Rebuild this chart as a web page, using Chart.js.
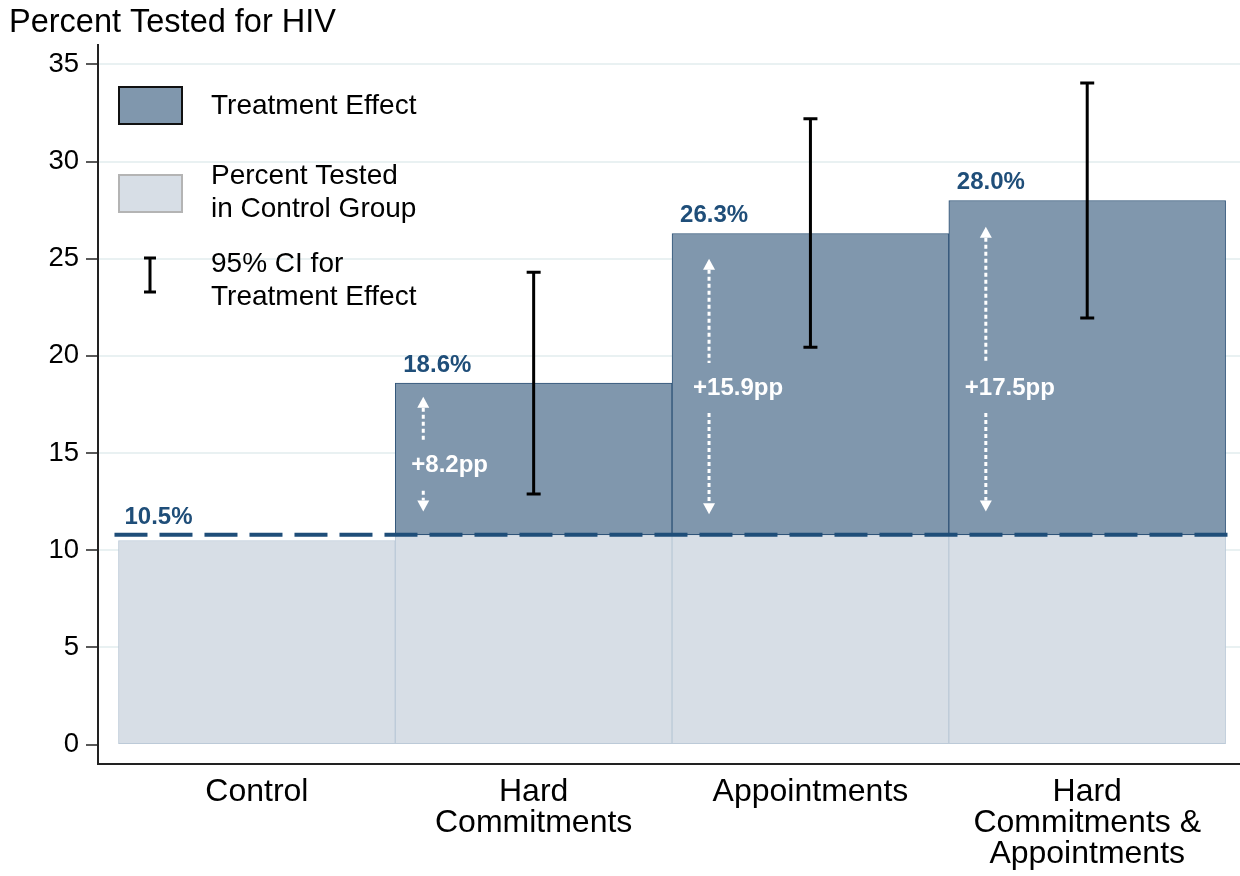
<!DOCTYPE html>
<html>
<head>
<meta charset="utf-8">
<title>Percent Tested for HIV</title>
<script src="https://cdn.jsdelivr.net/npm/chart.js@4.4.1/dist/chart.umd.min.js"></script>
<style>
  html, body { margin: 0; padding: 0; background: #fff; }
  #wrap { width: 1240px; height: 876px; }
</style>
</head>
<body>
<div id="wrap"><canvas id="hivChart"></canvas></div>
<script>
// Data
const categories = [['Control'], ['Hard', 'Commitments'], ['Appointments'], ['Hard', 'Commitments &', 'Appointments']];
const controlBase = [10.5, 10.8, 10.8, 10.8];
const treatedRate = [null, 18.6, 26.3, 28.0];
const controlMean = 10.8;
const shownPct = [10.5, 18.6, 26.3, 28.0];
const ciLow = [null, 12.9, 20.45, 21.95];
const ciHigh = [null, 24.3, 32.2, 34.05];
const effectPP = [null, 8.2, 15.9, 17.5];
const arrowTop = [null, 17.9, 25.0, 26.65];
const arrowBottom = [null, 12.0, 11.85, 12.0];
const effectLabelY = [null, 14.35, 18.35, 18.35];
const yTicks = [0, 5, 10, 15, 20, 25, 30, 35];

const FONT = "'Liberation Sans', Arial, sans-serif";
const DARK_BLUE = '#1f4e79';
const BAR_DARK = '#8097ad';
const BAR_LIGHT = '#d7dee6';

// pixel insets of the arrows / pp labels from the bar's left edge
const arrowInset = [0, 28, 37, 37];
const ppInset = [0, 16, 21, 16];

function arrowHead(ctx, x, y, dir) {
  ctx.beginPath();
  ctx.moveTo(x, y);
  ctx.lineTo(x - 6, y - dir * 11);
  ctx.lineTo(x + 6, y - dir * 11);
  ctx.closePath();
  ctx.fill();
}

const annotations = {
  id: 'annotations',
  afterDatasetsDraw(chart) {
    const { ctx, scales: { x, y } } = chart;
    ctx.save();

    // Control group reference line
    const x0 = x.getPixelForValue(-0.5) - 4;
    const x1 = x.getPixelForValue(categories.length - 0.5) + 4;
    const yBase = y.getPixelForValue(controlMean);
    ctx.strokeStyle = DARK_BLUE;
    ctx.lineWidth = 4;
    ctx.setLineDash([33, 12]);
    ctx.beginPath();
    ctx.moveTo(x0, yBase);
    ctx.lineTo(x1, yBase);
    ctx.stroke();
    ctx.setLineDash([]);

    // Error bars
    ctx.strokeStyle = '#000';
    ctx.lineWidth = 3;
    ciLow.forEach((lo, i) => {
      if (lo == null) return;
      const cx = x.getPixelForValue(i);
      const yl = y.getPixelForValue(lo);
      const yh = y.getPixelForValue(ciHigh[i]);
      ctx.beginPath();
      ctx.moveTo(cx, yl); ctx.lineTo(cx, yh);
      ctx.moveTo(cx - 7, yl); ctx.lineTo(cx + 7, yl);
      ctx.moveTo(cx - 7, yh); ctx.lineTo(cx + 7, yh);
      ctx.stroke();
    });

    // Value labels above bars
    ctx.font = 'bold 24px ' + FONT;
    ctx.fillStyle = DARK_BLUE;
    ctx.textAlign = 'left';
    ctx.textBaseline = 'alphabetic';
    shownPct.forEach((v, i) => {
      const left = x.getPixelForValue(i - 0.5);
      const top = treatedRate[i] == null ? controlMean : treatedRate[i];
      ctx.fillText(v.toFixed(1) + '%', left + (i === 0 ? 6 : 8), y.getPixelForValue(top) - 11);
    });

    // Treatment effect arrows
    ctx.fillStyle = '#fff';
    ctx.strokeStyle = '#fff';
    effectPP.forEach((pp, i) => {
      if (pp == null) return;
      const left = x.getPixelForValue(i - 0.5);
      const ax = left + arrowInset[i];
      const yt = y.getPixelForValue(arrowTop[i]);
      const yb = y.getPixelForValue(arrowBottom[i]);
      const ym = y.getPixelForValue(effectLabelY[i]);
      ctx.lineWidth = 3;
      ctx.setLineDash([4, 3]);
      ctx.beginPath();
      ctx.moveTo(ax, yt + 11); ctx.lineTo(ax, ym - 25);
      ctx.moveTo(ax, ym + 25); ctx.lineTo(ax, yb - 11);
      ctx.stroke();
      ctx.setLineDash([]);
      arrowHead(ctx, ax, yt, -1);
      arrowHead(ctx, ax, yb, 1);
      ctx.font = 'bold 24px ' + FONT;
      ctx.textBaseline = 'middle';
      ctx.fillText('+' + pp.toFixed(1) + 'pp', left + ppInset[i], ym);
    });
    ctx.restore();
  },

  // Legend inside the plot
  afterDraw(chart) {
    const { ctx, chartArea } = chart;
    const lx = chartArea.left + 21;
    const tx = chartArea.left + 113;
    const top = chartArea.top;
    ctx.save();
    ctx.lineWidth = 2;
    ctx.fillStyle = BAR_DARK;
    ctx.strokeStyle = '#111';
    ctx.fillRect(lx, top + 42, 63, 37);
    ctx.strokeRect(lx, top + 42, 63, 37);
    ctx.fillStyle = BAR_LIGHT;
    ctx.strokeStyle = '#b4b4b4';
    ctx.fillRect(lx, top + 130, 63, 37);
    ctx.strokeRect(lx, top + 130, 63, 37);

    ctx.strokeStyle = '#000';
    ctx.lineWidth = 3;
    const cx = lx + 31;
    ctx.beginPath();
    ctx.moveTo(cx, top + 213); ctx.lineTo(cx, top + 247);
    ctx.moveTo(cx - 6, top + 213); ctx.lineTo(cx + 6, top + 213);
    ctx.moveTo(cx - 6, top + 247); ctx.lineTo(cx + 6, top + 247);
    ctx.stroke();

    ctx.fillStyle = '#000';
    ctx.font = '28px ' + FONT;
    ctx.textAlign = 'left';
    ctx.textBaseline = 'middle';
    ctx.fillText('Treatment Effect', tx, top + 61);
    ctx.fillText('Percent Tested', tx, top + 131);
    ctx.fillText('in Control Group', tx, top + 164);
    ctx.fillText('95% CI for', tx, top + 219);
    ctx.fillText('Treatment Effect', tx, top + 252);
    ctx.restore();
  }
};

const ctx = document.getElementById('hivChart');

new Chart(ctx, {
  type: 'bar',
  data: {
    datasets: [
      {
        label: 'Treatment Effect',
        data: treatedRate.map((v, i) => ({ x: i, y: [controlMean, v] })).filter(d => d.y[1] != null),
        backgroundColor: BAR_DARK,
        borderColor: '#2f5378',
        borderWidth: 1,
        borderSkipped: false,
        grouped: false,
        barPercentage: 1,
        categoryPercentage: 1
      },
      {
        label: 'Percent Tested in Control Group',
        data: controlBase.map((v, i) => ({ x: i, y: [0, v] })),
        backgroundColor: BAR_LIGHT,
        borderColor: '#bccad8',
        borderWidth: 1,
        borderSkipped: false,
        grouped: false,
        barPercentage: 1,
        categoryPercentage: 1
      }
    ]
  },
  options: {
    responsive: true,
    maintainAspectRatio: false,
    animation: false,
    layout: { padding: { left: 9, right: 0, top: 0, bottom: 0 } },
    plugins: {
      legend: { display: false },
      tooltip: { enabled: false },
      title: {
        display: true,
        text: 'Percent Tested for HIV',
        align: 'start',
        color: '#000',
        font: { family: FONT, size: 32.5, weight: 'normal', lineHeight: 1.2 },
        padding: { top: 4, bottom: 2 }
      }
    },
    scales: {
      x: {
        type: 'linear',
        offset: false,
        min: -0.574,
        max: 3.552,
        afterBuildTicks: s => { s.ticks = categories.map((c, i) => ({ value: i })); },
        afterFit: s => { s.height = 112; },
        ticks: {
          callback: v => categories[v],
          color: '#000',
          font: { family: FONT, size: 32, lineHeight: 0.97 },
          padding: 13,
          maxRotation: 0,
          autoSkip: false
        },
        grid: { offset: false, color: 'rgba(0,0,0,0)', drawTicks: false },
        border: { display: true, color: '#222', width: 2 }
      },
      y: {
        min: -1,
        max: 36,
        afterBuildTicks: s => { s.ticks = yTicks.map(v => ({ value: v })); },
        afterFit: s => { s.width = 89; },
        ticks: {
          color: '#000',
          font: { family: FONT, size: 27.5 },
          padding: 7
        },
        grid: {
          color: c => (c.tick && c.tick.value === 0) ? 'rgba(0,0,0,0)' : '#e9f1f2',
          lineWidth: 2,
          tickLength: 12,
          tickColor: '#222',
          tickWidth: 1.5
        },
        border: { display: true, color: '#222', width: 2 }
      }
    }
  },
  plugins: [annotations]
});
</script>
</body>
</html>
